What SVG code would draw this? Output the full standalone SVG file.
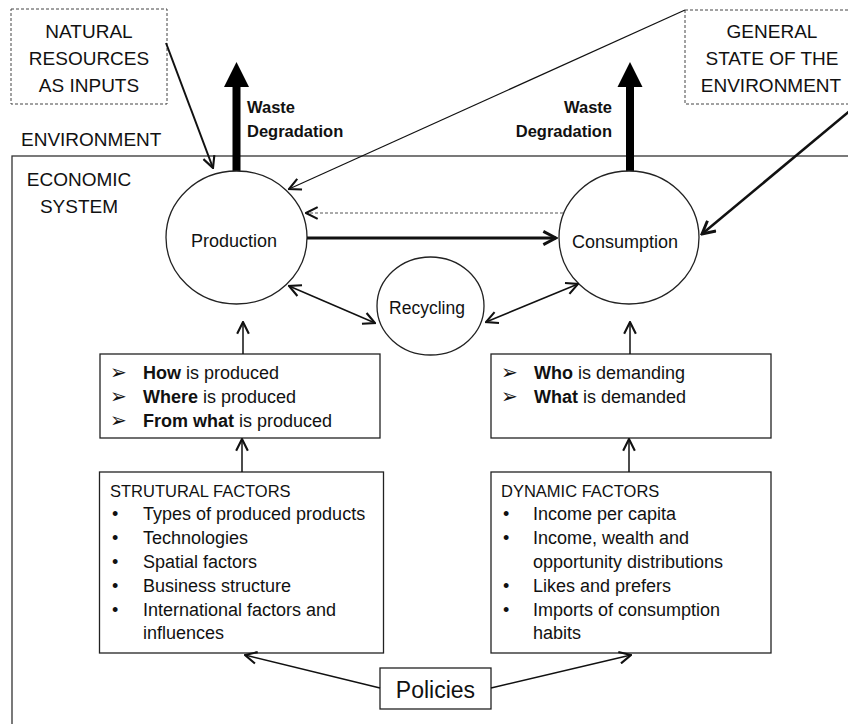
<svg xmlns="http://www.w3.org/2000/svg" width="848" height="724" viewBox="0 0 848 724">
<defs>
<style>
text{font-family:"Liberation Sans",Arial,sans-serif;fill:#111}
.lbl{font-size:19px}
.mid{text-anchor:middle}
.bold{font-weight:bold}
.waste{font-size:16.5px;font-weight:bold}
.circ{font-size:18px}
.item{font-size:18px}
.hdr{font-size:16.5px}
.bul{font-family:"DejaVu Sans",sans-serif;font-size:20px}
.dash{fill:#fff;stroke:#444;stroke-width:1;stroke-dasharray:3 2}
.node{fill:#fff;stroke:#222;stroke-width:1.3}
.ln{fill:none;stroke:#111;stroke-width:1.5}
</style>
<marker id="ah" markerUnits="userSpaceOnUse" markerWidth="14" markerHeight="14" viewBox="0 0 12 12" refX="11" refY="6" orient="auto-start-reverse">
<path d="M1,1 L11,6 L1,11" fill="none" stroke="#111" stroke-width="1.8"/>
</marker>
<marker id="ahb" markerUnits="userSpaceOnUse" markerWidth="16" markerHeight="16" viewBox="0 0 12 12" refX="10.5" refY="6" orient="auto">
<path d="M1,1 L10.5,6 L1,11" fill="none" stroke="#111" stroke-width="2.2"/>
</marker>
</defs>
<rect width="848" height="724" fill="#fff"/>

<g id="environment">
<rect x="12" y="156" width="860" height="600" fill="none" stroke="#333" stroke-width="1.3"/>
<text class="lbl" x="21" y="146">ENVIRONMENT</text>
<text class="lbl mid" x="79" y="186">ECONOMIC</text>
<text class="lbl mid" x="79" y="213">SYSTEM</text>
</g>

<g id="natural-resources">
<rect class="dash" x="11" y="9" width="156" height="95"/>
<text class="lbl mid" x="89" y="38">NATURAL</text>
<text class="lbl mid" x="89" y="65">RESOURCES</text>
<text class="lbl mid" x="89" y="92">AS INPUTS</text>
</g>

<g id="general-state">
<rect class="dash" x="685" y="10" width="180" height="94"/>
<text class="lbl mid" x="772" y="38">GENERAL</text>
<text class="lbl mid" x="772" y="65">STATE OF THE</text>
<text class="lbl mid" x="771" y="92">ENVIRONMENT</text>
</g>

<g id="waste-production">
<polygon points="232.5,172 240.5,172 240.5,87 249,87 236.5,62 224,87 232.5,87" fill="#000"/>
<text class="waste" x="247" y="113">Waste</text>
<text class="waste" x="247" y="137">Degradation</text>
</g>

<g id="waste-consumption">
<polygon points="626,172 634,172 634,87 642.5,87 630,62 617.5,87 626,87" fill="#000"/>
<text class="waste" x="612" y="113" text-anchor="end">Waste</text>
<text class="waste" x="612" y="137" text-anchor="end">Degradation</text>
</g>

<g id="production">
<ellipse class="node" cx="236.5" cy="237.5" rx="70.5" ry="66.5"/>
<text class="circ mid" x="234" y="247">Production</text>
</g>

<g id="consumption">
<ellipse class="node" cx="629" cy="237.5" rx="70" ry="66.5"/>
<text class="circ mid" x="625" y="248">Consumption</text>
</g>

<g id="recycling">
<ellipse class="node" cx="430.5" cy="306" rx="53.5" ry="49"/>
<text class="circ mid" x="427" y="314" style="font-size:17.5px">Recycling</text>
</g>

<g id="how-box">
<rect class="node" x="100" y="354" width="280" height="84"/>
<text class="bul" x="110" y="379">➢</text>
<text class="bul" x="110" y="403">➢</text>
<text class="bul" x="110" y="427">➢</text>
<text class="item" x="143" y="379"><tspan class="bold">How</tspan> is produced</text>
<text class="item" x="143" y="403"><tspan class="bold">Where</tspan> is produced</text>
<text class="item" x="143" y="427"><tspan class="bold">From what</tspan> is produced</text>
</g>

<g id="who-box">
<rect class="node" x="491" y="354" width="280" height="84"/>
<text class="bul" x="501" y="379">➢</text>
<text class="bul" x="501" y="403">➢</text>
<text class="item" x="534" y="379"><tspan class="bold">Who</tspan> is demanding</text>
<text class="item" x="534" y="403"><tspan class="bold">What</tspan> is demanded</text>
</g>

<g id="structural-factors">
<rect class="node" x="99.5" y="472" width="284" height="181"/>
<text class="hdr" x="110" y="497">STRUTURAL FACTORS</text>
<text class="item" x="112" y="520">•</text>
<text class="item" x="112" y="544">•</text>
<text class="item" x="112" y="568">•</text>
<text class="item" x="112" y="592">•</text>
<text class="item" x="112" y="616">•</text>
<text class="item" x="143" y="520">Types of produced products</text>
<text class="item" x="143" y="544">Technologies</text>
<text class="item" x="143" y="568">Spatial factors</text>
<text class="item" x="143" y="592">Business structure</text>
<text class="item" x="143" y="616">International factors and</text>
<text class="item" x="143" y="639">influences</text>
</g>

<g id="dynamic-factors">
<rect class="node" x="491" y="472" width="280" height="181"/>
<text class="hdr" x="501" y="497">DYNAMIC FACTORS</text>
<text class="item" x="503" y="520">•</text>
<text class="item" x="503" y="544">•</text>
<text class="item" x="503" y="592">•</text>
<text class="item" x="503" y="616">•</text>
<text class="item" x="533" y="520">Income per capita</text>
<text class="item" x="533" y="544">Income, wealth and</text>
<text class="item" x="533" y="568">opportunity distributions</text>
<text class="item" x="533" y="592">Likes and prefers</text>
<text class="item" x="533" y="616">Imports of consumption</text>
<text class="item" x="533" y="639">habits</text>
</g>

<g id="policies">
<rect class="node" x="380" y="668" width="111" height="41"/>
<text class="mid" x="435.5" y="698" style="font-size:23px">Policies</text>
</g>

<g id="connectors">
<line class="ln" x1="166" y1="43" x2="213" y2="168" style="stroke-width:2" marker-end="url(#ah)"/>
<line class="ln" x1="685" y1="10" x2="289" y2="189" style="stroke-width:1.2" marker-end="url(#ah)"/>
<line x1="563" y1="213" x2="306" y2="213" stroke="#555" stroke-width="1" stroke-dasharray="3 2" marker-end="url(#ah)"/>
<line class="ln" x1="307" y1="238" x2="556" y2="238" style="stroke-width:3" marker-end="url(#ahb)"/>
<line class="ln" x1="852" y1="109" x2="702" y2="234" style="stroke-width:2.5" marker-end="url(#ahb)"/>
<line class="ln" x1="289" y1="286" x2="375" y2="323" marker-start="url(#ah)" marker-end="url(#ah)"/>
<line class="ln" x1="486" y1="322" x2="578" y2="284" marker-start="url(#ah)" marker-end="url(#ah)"/>
<line class="ln" x1="243" y1="354" x2="243" y2="322" marker-end="url(#ah)"/>
<line class="ln" x1="630" y1="354" x2="630" y2="322" marker-end="url(#ah)"/>
<line class="ln" x1="242" y1="472" x2="242" y2="439" marker-end="url(#ah)"/>
<line class="ln" x1="629" y1="472" x2="629" y2="439" marker-end="url(#ah)"/>
<line class="ln" x1="380" y1="688" x2="245" y2="655" marker-end="url(#ah)"/>
<line class="ln" x1="491" y1="688" x2="631" y2="655" marker-end="url(#ah)"/>
</g>
</svg>
